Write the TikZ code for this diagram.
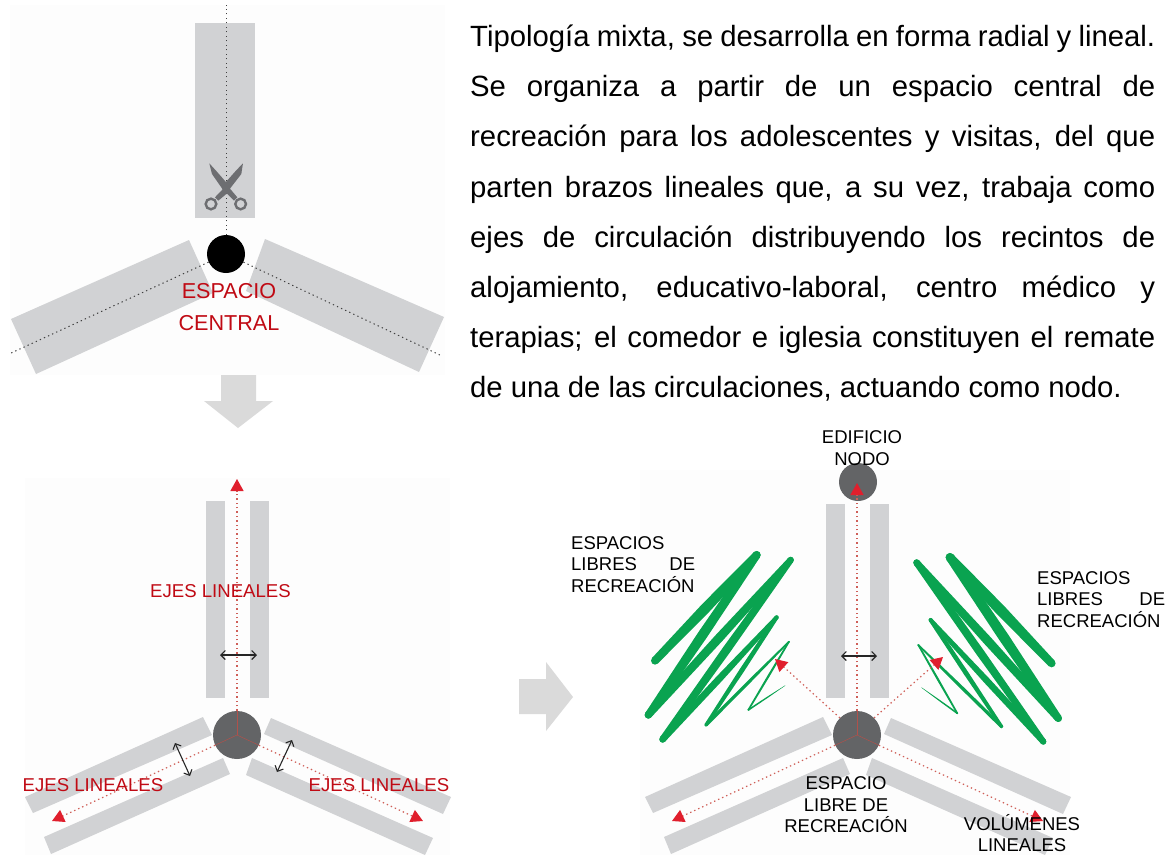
\documentclass[tikz,border=0pt]{standalone}
\usepackage{fontspec}
\setmainfont{Liberation Sans}
\usetikzlibrary{arrows.meta,calc}
\definecolor{armgray}{HTML}{D1D2D4}
\definecolor{paneloff}{HTML}{FDFDFD}
\definecolor{hubgray}{HTML}{636466}
\definecolor{bigarrow}{HTML}{DADADA}
\definecolor{labelred}{HTML}{C00A14}
\definecolor{tipred}{HTML}{E01F2D}
\definecolor{dotred}{HTML}{CF5F58}
\definecolor{scribble}{HTML}{0AA350}
\definecolor{scissor}{HTML}{6D6E71}
\tikzset{
  arm/.style={fill=armgray,draw=none},
  panel/.style={fill=paneloff,draw=none},
  cutline/.style={draw=black!75,line width=1pt,dash pattern=on 1.3pt off 3.2pt},
  axisline/.style={draw=dotred,line width=1.2pt,dash pattern=on 1.4pt off 3pt,
     -{Triangle[width=13pt,length=12pt,color=tipred]}},
  innerline/.style={draw=dotred!85!black,line width=0.5pt},
  widthmark/.style={draw=black!85,line width=1.1pt,{Straight Barb[length=4.5pt,width=9pt]}-{Straight Barb[length=4.5pt,width=9pt]}},
  hub/.style={circle,fill=hubgray,draw=none,inner sep=0pt},
  redlabel/.style={text=labelred,font=\fontsize{18.6}{22}\selectfont,inner sep=0pt,align=center},
  blacklabel/.style={text=black,font=\fontsize{18.5}{21.6}\selectfont,inner sep=0pt,align=center},
  bodytext/.style={text=black,font=\fontsize{29.3}{50.1}\selectfont,inner sep=0pt,anchor=north west,text width=685pt,align=justify},
}
% one scribble stroke: end A, width, end B, width; it swells towards the middle
\newcommand{\stroke}[6]{%
  \fill[scribble] (#1,#2) circle[radius=#3/2];
  \fill[scribble] (#4,#5) circle[radius=#6/2];
  \coordinate (sm) at ($(#1,#2)!0.5!(#4,#5)$);
  \fill[scribble] ($(#1,#2)!#3/6*1pt!90:(#4,#5)$)
     -- ($(sm)!{(#3+#6)/2*1.3/6*1pt}!90:(#4,#5)$)
     -- ($(#4,#5)!#6/6*1pt!-90:(#1,#2)$) -- ($(#4,#5)!#6/6*1pt!90:(#1,#2)$)
     -- ($(sm)!{(#3+#6)/2*1.3/6*1pt}!-90:(#4,#5)$)
     -- ($(#1,#2)!#3/6*1pt!-90:(#4,#5)$) -- cycle;
}
\begin{document}
\begin{tikzpicture}[x=1pt,y=-1pt]
\useasboundingbox (0,0) rectangle (1173,855);
\fill[white] (0,0) rectangle (1173,855);
% faint panels
\fill[panel] (10,5) rectangle (445,375);
\fill[panel] (25,478) rectangle (450,855);
\fill[panel] (640,470) rectangle (1070,855);

% ---------- top diagram
\fill[arm] (195,23) rectangle (255,218);
\fill[arm] (189,240) -- (11,319) -- (36,374) -- (213,293) -- cycle;
\fill[arm] (265,239) -- (444,317) -- (419,372) -- (246,291) -- cycle;
\node[circle,fill=black,minimum size=38pt,inner sep=0pt] (c1) at (226,254) {};
\coordinate (c1up) at (226,5);
\coordinate (c1left) at (9,354);
\coordinate (c1right) at (442,356);
\draw[cutline] (c1.90) -- (c1up);
\draw[cutline] (c1.205) -- (c1left);
\draw[cutline] (c1.335) -- (c1right);
% scissors
\begin{scope}[x=0.3333pt,y=-0.3333pt]
  \fill[scissor] (628,490) -- (648,512) -- (690,560) -- (684,578) -- (655,602) -- (645,592) -- (668,568) -- (636,522) -- cycle;
  \fill[scissor] (729,490) -- (724,522) -- (690,566) -- (712,592) -- (702,602) -- (672,572) -- (676,548) -- (708,512) -- cycle;
  \draw[scissor,line width=2.4pt] (633,612) circle[radius=16];
  \draw[scissor,line width=2.4pt] (722,612) circle[radius=16];
\end{scope}
\node[redlabel,font=\fontsize{21.6}{22}\selectfont] (t1) at (229,291) {ESPACIO};
\node[redlabel,font=\fontsize{21.6}{22}\selectfont] (t2) at (229,323) {CENTRAL};
% big down arrow
\fill[bigarrow] (221,375) -- (256,375) -- (256,401) -- (273,401) -- (238,428) -- (204,401) -- (221,401) -- cycle;

% ---------- bottom-left diagram
\fill[arm] (206,501) rectangle (225,698);
\fill[arm] (250,501) rectangle (269,698);
\fill[arm] (203,717) -- (212,735) -- (33,813) -- (25,797) -- cycle;
\fill[arm] (223,758) -- (230,774) -- (51,854) -- (44,837) -- cycle;
\fill[arm] (271,718) -- (451,797) -- (443,814) -- (264,734) -- cycle;
\fill[arm] (252,758) -- (433,838) -- (425,855) -- (246,775) -- cycle;
\node[hub,minimum size=48pt] (c2) at (237,735) {};
\coordinate (c2mid) at (237,735);
\coordinate (c2up) at (237,479);
\coordinate (c2left) at (52,821);
\coordinate (c2right) at (423,821);
\draw[innerline] (c2mid) -- (c2.90);
\draw[innerline] (c2mid) -- (c2.205);
\draw[innerline] (c2mid) -- (c2.335);
\draw[axisline] (c2.90) -- (c2up);
\draw[axisline] (c2.205) -- (c2left);
\draw[axisline] (c2.335) -- (c2right);
\coordinate (wa1) at (220,655); \coordinate (wa2) at (257,655);
\coordinate (wb1) at (175,743); \coordinate (wb2) at (190,776);
\coordinate (wc1) at (292,740); \coordinate (wc2) at (277,772);
\draw[widthmark] (wa1) -- (wa2);
\draw[widthmark] (wb1) -- (wb2);
\draw[widthmark] (wc1) -- (wc2);
\node[redlabel] (e1) at (220.5,591) {EJES LINEALES};
\node[redlabel] (e2) at (93,785) {EJES LINEALES};
\node[redlabel] (e3) at (379,785) {EJES LINEALES};

% big right arrow
\fill[bigarrow] (519,679) -- (519,714) -- (546,714) -- (546,731) -- (573,697) -- (546,662) -- (546,679) -- cycle;

% ---------- bottom-right diagram
\begin{scope}[shift={(620,420)},x=0.3333pt,y=-0.3333pt]
  \stroke{105}{722}{24}{410}{405}{24}
  \stroke{410}{405}{24}{85}{885}{22}
  \stroke{85}{885}{22}{512}{420}{19}
  \stroke{512}{420}{19}{128}{958}{20}
  \stroke{128}{958}{20}{470}{592}{12}
  \stroke{470}{592}{12}{258}{915}{10}
  \stroke{258}{915}{10}{507}{665}{5}
  \stroke{507}{665}{5}{385}{870}{5}
  \stroke{385}{870}{5}{495}{797}{1}
  \stroke{1295}{730}{24}{990}{412}{26}
  \stroke{990}{412}{26}{1315}{895}{22}
  \stroke{1315}{895}{22}{890}{428}{20}
  \stroke{890}{428}{20}{1270}{965}{18}
  \stroke{1270}{965}{18}{932}{600}{12}
  \stroke{932}{600}{12}{1145}{920}{10}
  \stroke{1145}{920}{10}{895}{675}{5}
  \stroke{895}{675}{5}{1012}{880}{5}
  \stroke{1012}{880}{5}{905}{803}{1}
\end{scope}
\fill[arm] (826,504) rectangle (845,698);
\fill[arm] (870,504) rectangle (889,698);
\fill[arm] (823,717) -- (832,735) -- (653,813) -- (645,797) -- cycle;
\fill[arm] (843,758) -- (850,774) -- (671,854) -- (664,837) -- cycle;
\fill[arm] (891,718) -- (1071,797) -- (1063,814) -- (884,734) -- cycle;
\fill[arm] (872,758) -- (1053,838) -- (1045,855) -- (866,775) -- cycle;
\node[hub,minimum size=48pt] (c3) at (857,735) {};
\node[hub,minimum size=38pt] (n3) at (858,482) {};
\coordinate (c3mid) at (857,735);
\coordinate (c3ul) at (775,659);
\coordinate (c3ur) at (943,657);
\coordinate (c3left) at (672,821);
\coordinate (c3right) at (1043,821);
\coordinate (n3tip) at (857,483);
\draw[innerline] (c3mid) -- (c3.90);
\draw[innerline] (c3mid) -- (c3.205);
\draw[innerline] (c3mid) -- (c3.335);
\draw[axisline] (c3.90) -- (n3tip);
\draw[axisline] (c3.135) -- (c3ul);
\draw[axisline] (c3.45) -- (c3ur);
\draw[axisline] (c3.205) -- (c3left);
\draw[axisline] (c3.335) -- (c3right);
\coordinate (wd1) at (841,656); \coordinate (wd2) at (877,656);
\draw[widthmark] (wd1) -- (wd2);
\node[blacklabel] (l1) at (862,448) {EDIFICIO\\NODO};
\node[blacklabel] (l2) at (846,805) {ESPACIO\\LIBRE DE\\RECREACIÓN};
\node[blacklabel] (l3) at (1022,833) {VOLÚMENES\\LINEALES};
\node[blacklabel,anchor=north west,align=left] (l4) at (571,536) {ESPACIOS\\\makebox[124pt][s]{LIBRES\hfill DE}\\RECREACIÓN};
\node[blacklabel,anchor=north west,align=left] (l5) at (1037,571) {ESPACIOS\\\makebox[128pt][s]{LIBRES\hfill DE}\\RECREACIÓN};

% ---------- paragraph
\node[bodytext] (body) at (470,25) {Tipología mixta, se desarrolla en forma radial y lineal.\linebreak
Se organiza a partir de un espacio central de\linebreak
recreación para los adolescentes y visitas, del que\linebreak
parten brazos lineales que, a su vez, trabaja como\linebreak
ejes de circulación distribuyendo los recintos de\linebreak
alojamiento, educativo-laboral, centro médico y\linebreak
terapias; el comedor e iglesia constituyen el remate\linebreak
de una de las circulaciones, actuando como nodo.};
\end{tikzpicture}
\end{document}
